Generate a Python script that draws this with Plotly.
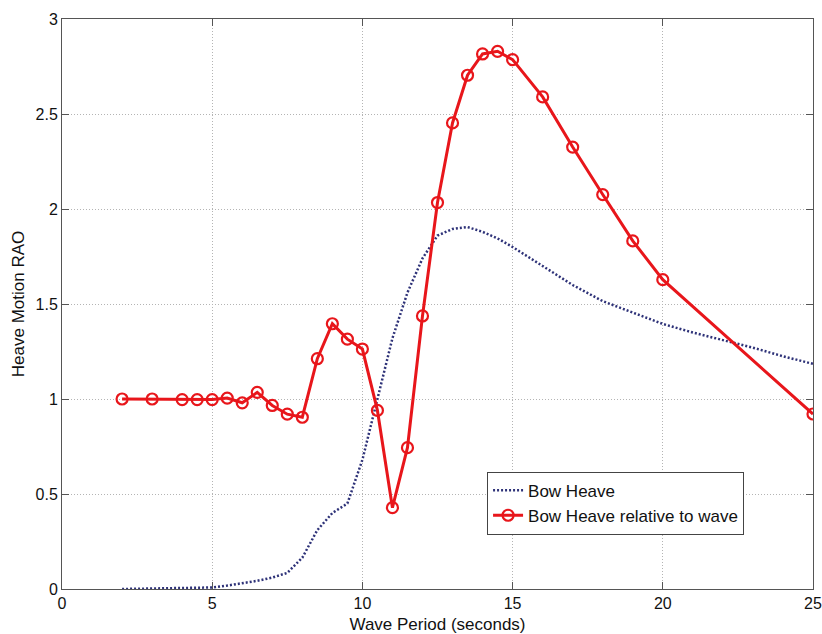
import plotly.graph_objects as go

# Bow heave RAO (absolute) sampled along wave period
period_bow = [2, 3, 4, 5, 5.5, 6, 6.5, 7, 7.5, 8, 8.5, 9, 9.5, 10, 10.5, 11, 11.5,
              12, 12.5, 13, 13.5, 14, 14.5, 15, 16, 17, 18, 19, 20, 21, 22, 23, 24, 25]
bow_heave = [0.0, 0.003, 0.005, 0.008, 0.018, 0.03, 0.043, 0.06, 0.085, 0.165, 0.31,
             0.40, 0.45, 0.68, 1.0, 1.32, 1.56, 1.74, 1.86, 1.895, 1.905, 1.88, 1.845,
             1.80, 1.70, 1.60, 1.515, 1.455, 1.395, 1.35, 1.31, 1.27, 1.225, 1.185]

# Bow heave relative to the wave surface
period_rel = [2, 3, 4, 4.5, 5, 5.5, 6, 6.5, 7, 7.5, 8, 8.5, 9, 9.5, 10, 10.5, 11, 11.5,
              12, 12.5, 13, 13.5, 14, 14.5, 15, 16, 17, 18, 19, 20, 25]
bow_rel = [1.0, 1.0, 0.997, 0.997, 0.997, 1.005, 0.98, 1.035, 0.966, 0.92, 0.904,
           1.212, 1.396, 1.315, 1.263, 0.94, 0.428, 0.744, 1.437, 2.034, 2.453, 2.704,
           2.816, 2.83, 2.786, 2.59, 2.326, 2.076, 1.832, 1.628, 0.921]

x_ticks = [0, 5, 10, 15, 20, 25]
y_ticks = [0, 0.5, 1, 1.5, 2, 2.5, 3]
y_tick_text = ["0", "0.5", "1", "1.5", "2", "2.5", "3"]

FONT = "Liberation Sans, Arial, sans-serif"
TEXT = "#111111"

fig = go.Figure()
fig.add_trace(go.Scatter(
    x=period_bow, y=bow_heave, mode="lines", name="Bow Heave",
    line=dict(color="#2e3278", width=2.5, dash="2px,2px"),
))
fig.add_trace(go.Scatter(
    x=period_rel, y=bow_rel, mode="lines+markers", name="Bow Heave relative to wave",
    line=dict(color="#e8161b", width=3),
    marker=dict(symbol="circle-open", size=11, color="#e8161b", line=dict(width=2.2)),
))

axis_common = dict(
    showgrid=True, gridcolor="#b4b4b4", griddash="1px,2px", gridwidth=1,
    showline=True, linecolor="#555555", linewidth=1, mirror="ticks",
    ticks="inside", ticklen=7, tickcolor="#555555", tickwidth=1,
    zeroline=False,
    tickfont=dict(family=FONT, size=16, color=TEXT),
)

fig.update_xaxes(
    range=[0, 25], tickvals=x_ticks, automargin=False,
    title=dict(text="Wave Period (seconds)", font=dict(family=FONT, size=17, color=TEXT)),
    **axis_common,
)
fig.update_yaxes(
    range=[0, 3], tickvals=y_ticks, ticktext=y_tick_text, automargin=True,
    title=dict(text="Heave Motion RAO", font=dict(family=FONT, size=17, color=TEXT),
               standoff=6),
    **axis_common,
)

fig.update_layout(
    width=822, height=634,
    margin=dict(l=62, r=9, t=19, b=45),
    paper_bgcolor="white", plot_bgcolor="white",
    font=dict(family=FONT, size=16, color=TEXT),
    showlegend=True,
    legend=dict(
        x=0.566, y=0.206, xanchor="left", yanchor="top",
        bgcolor="white", bordercolor="#444444", borderwidth=1,
        font=dict(family=FONT, size=17, color=TEXT),
        itemwidth=30, tracegroupgap=0,
    ),
)

fig.write_html("out.html")
